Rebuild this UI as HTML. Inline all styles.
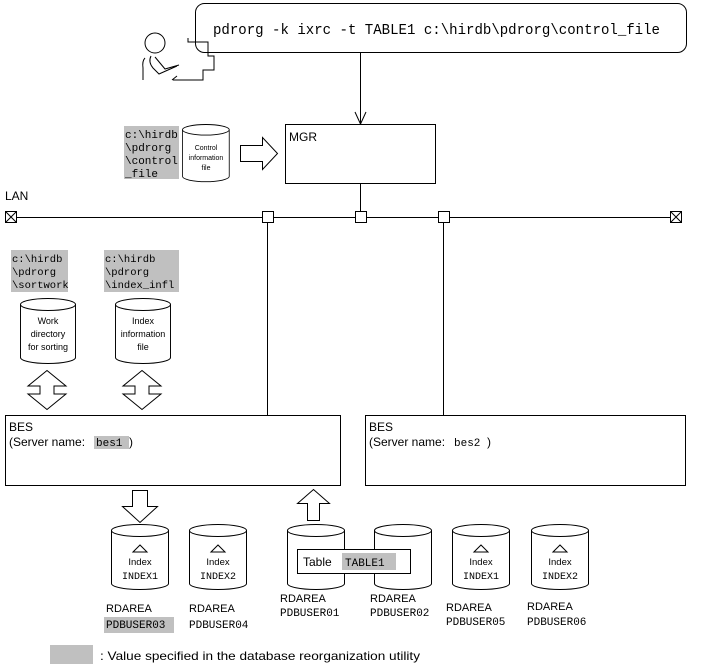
<!DOCTYPE html>
<html><head><meta charset="utf-8"><style>
body{margin:0;background:#fff;}
svg{display:block;font-family:"Liberation Sans",sans-serif;}
.m{font-family:"Liberation Mono",monospace;}
</style></head><body>
<svg width="701" height="668" viewBox="0 0 701 668" xmlns="http://www.w3.org/2000/svg" stroke-width="1">
<defs>
<g id="cyl"><path d="M0,6 v53 a28.5,6 0 0 0 57,0 v-53" fill="#fff" stroke="#000"/><ellipse cx="28.5" cy="6" rx="28.5" ry="6" fill="#fff" stroke="#000"/></g>
</defs>
<rect x="195.5" y="3.5" width="491" height="49" rx="9" fill="#fff" stroke="#000"/>
<text x="213" y="34" class="m" font-size="14.5" textLength="447" lengthAdjust="spacingAndGlyphs">pdrorg -k ixrc -t TABLE1 c:\hirdb\pdrorg\control_file</text>
<g fill="none" stroke="#000">
<circle cx="155" cy="43" r="10"/>
<path d="M145,58 q-3,3 -2,10 v12"/>
<path d="M151,56 q-3,6 2,12 l6,6 l18,-8"/>
<path d="M155,57 l10,12 l14,-4"/>
<path d="M173,80 l30,0 v-10 h11 v-14 h-6 v-14 h-20 v-4 M172,80 l5,-4"/>
</g>
<line x1="360.5" y1="52" x2="360.5" y2="124" stroke="#000"/>
<path d="M355,112 L360.5,124 L366,112" fill="none" stroke="#000"/>
<rect x="285.5" y="124.5" width="150" height="59" fill="#fff" stroke="#000"/>
<text x="289" y="141" font-size="12">MGR</text>
<rect x="124" y="126" width="55" height="53" fill="#c0c0c0"/>
<text class="m" font-size="11" x="125" y="138">c:\hirdb</text>
<text class="m" font-size="11" x="125" y="151">\pdrorg</text>
<text class="m" font-size="11" x="125" y="164">\control</text>
<text class="m" font-size="11" x="125" y="177">_file</text>
<g transform="translate(182.5,124.5) scale(0.82,0.88)"><use href="#cyl"/></g>
<text font-size="7" text-anchor="middle"><tspan x="206" y="150">Control</tspan><tspan x="206" y="160">information</tspan><tspan x="206" y="170">file</tspan></text>
<path d="M240.5,145.5 h22 v-8 l15,16 l-15,16 v-8 h-22 z" fill="#fff" stroke="#000"/>
<line x1="360.5" y1="183" x2="360.5" y2="216" stroke="#000"/>
<text x="5" y="200" font-size="12">LAN</text>
<line x1="10" y1="217.5" x2="676" y2="217.5" stroke="#000"/>
<g fill="#fff" stroke="#000">
<rect x="5.5" y="211.5" width="11" height="11"/><path d="M5.5,211.5 l11,11 M16.5,211.5 l-11,11"/>
<rect x="670.5" y="211.5" width="11" height="11"/><path d="M670.5,211.5 l11,11 M681.5,211.5 l-11,11"/>
<rect x="262.5" y="211.5" width="11" height="11"/>
<rect x="355.5" y="211.5" width="11" height="11"/>
<rect x="438.5" y="211.5" width="11" height="11"/>
</g>
<line x1="267.5" y1="222" x2="267.5" y2="415" stroke="#000"/>
<line x1="443.5" y1="222" x2="443.5" y2="415" stroke="#000"/>
<rect x="11" y="250" width="57" height="42" fill="#c0c0c0"/>
<text class="m" font-size="10.5" x="12" y="262">c:\hirdb</text>
<text class="m" font-size="10.5" x="12" y="275">\pdrorg</text>
<text class="m" font-size="10.5" x="12" y="288">\sortwork</text>
<rect x="104" y="250" width="75" height="42" fill="#c0c0c0"/>
<text class="m" font-size="10.5" x="105" y="262">c:\hirdb</text>
<text class="m" font-size="10.5" x="105" y="275">\pdrorg</text>
<text class="m" font-size="10.5" x="105" y="288">\index_infl</text>
<g transform="translate(20.5,298.5) scale(0.965,1)"><use href="#cyl"/></g>
<g transform="translate(115.5,298.5) scale(0.965,1)"><use href="#cyl"/></g>
<text font-size="9" text-anchor="middle"><tspan x="48" y="324">Work</tspan><tspan x="48" y="337">directory</tspan><tspan x="48" y="350">for sorting</tspan></text>
<text font-size="9" text-anchor="middle"><tspan x="143" y="324">Index</tspan><tspan x="143" y="337">information</tspan><tspan x="143" y="350">file</tspan></text>
<path d="M47,370.5 L66,386 H54 V394 H66 L47,409.5 L28,394 H40 V386 H28 Z" fill="#fff" stroke="#000"/>
<path d="M142,370.5 L161,386 H149 V394 H161 L142,409.5 L123,394 H135 V386 H123 Z" fill="#fff" stroke="#000"/>
<rect x="5.5" y="415.5" width="335" height="70" fill="#fff" stroke="#000"/>
<text x="9" y="431" font-size="12">BES</text>
<text x="9" y="446" font-size="12">(Server name:</text>
<rect x="94" y="436" width="35" height="13" fill="#c0c0c0"/>
<text x="96" y="446" class="m" font-size="11">bes1</text>
<text x="129" y="446" font-size="12">)</text>
<rect x="365.5" y="415.5" width="320" height="70" fill="#fff" stroke="#000"/>
<text x="369" y="431" font-size="12">BES</text>
<text x="369" y="446" font-size="12">(Server name:</text>
<text x="454" y="446" class="m" font-size="11">bes2</text>
<text x="487" y="446" font-size="12">)</text>
<path d="M132.5,490.5 h15 v16 h10 l-17.5,16 l-17.5,-16 h10 z" fill="#fff" stroke="#000"/>
<path d="M307.5,520.5 v-17 h-10 l16,-14 l16,14 h-10 v17 z" fill="#fff" stroke="#000"/>
<g transform="translate(111.5,524.5)"><use href="#cyl"/></g>
<g transform="translate(189.5,524.5)"><use href="#cyl"/></g>
<g transform="translate(287.5,524.5)"><use href="#cyl"/></g>
<g transform="translate(374.5,524.5)"><use href="#cyl"/></g>
<g transform="translate(452.5,524.5)"><use href="#cyl"/></g>
<g transform="translate(531.5,524.5)"><use href="#cyl"/></g>
<g fill="#fff" stroke="#000">
<path d="M133,552 l7,-7 l7,7 z"/><path d="M211,552 l7,-7 l7,7 z"/>
<path d="M474,552 l7,-7 l7,7 z"/><path d="M553,552 l7,-7 l7,7 z"/>
</g>
<g font-size="9.5" text-anchor="middle">
<text x="140" y="565">Index</text><text x="218" y="565">Index</text>
<text x="481" y="565">Index</text><text x="560" y="565">Index</text>
</g>
<g class="m" font-size="10" text-anchor="middle">
<text x="140" y="579">INDEX1</text><text x="218" y="579">INDEX2</text>
<text x="481" y="579">INDEX1</text><text x="560" y="579">INDEX2</text>
</g>
<rect x="297.5" y="549.5" width="113" height="24" fill="#fff" stroke="#000"/>
<text x="303" y="566" font-size="12">Table</text>
<rect x="342" y="553" width="54" height="17" fill="#c0c0c0"/>
<text x="345" y="566" class="m" font-size="11">TABLE1</text>
<g font-size="11">
<text x="106" y="612">RDAREA</text><text x="189" y="612">RDAREA</text>
<text x="280" y="602">RDAREA</text><text x="370" y="602">RDAREA</text>
<text x="446" y="611">RDAREA</text><text x="527" y="610">RDAREA</text>
</g>
<rect x="104" y="617" width="70" height="16" fill="#c0c0c0"/>
<g class="m" font-size="11">
<text x="106" y="628">PDBUSER03</text><text x="189" y="628">PDBUSER04</text>
<text x="280" y="616">PDBUSER01</text><text x="370" y="616">PDBUSER02</text>
<text x="446" y="625">PDBUSER05</text><text x="527" y="625">PDBUSER06</text>
</g>
<rect x="50" y="645" width="43" height="19" fill="#c0c0c0"/>
<text x="100" y="660" font-size="12" textLength="320" lengthAdjust="spacingAndGlyphs">: Value specified in the database reorganization utility</text>
</svg>
</body></html>
